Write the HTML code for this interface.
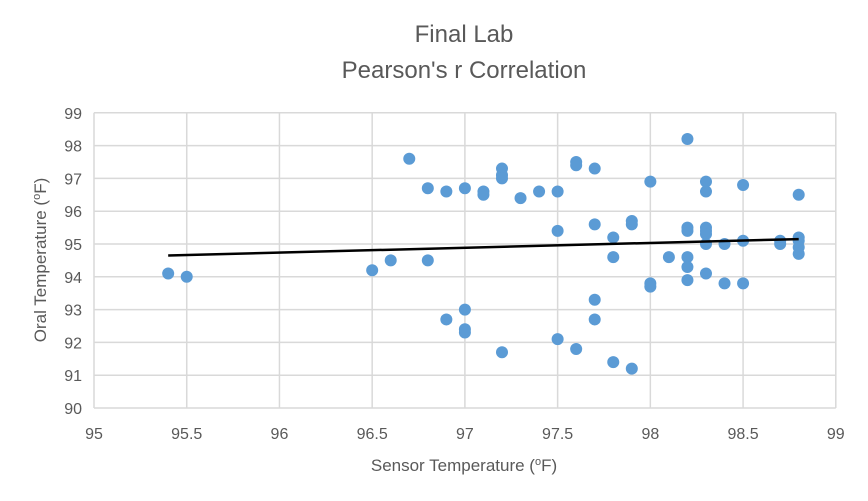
<!DOCTYPE html>
<html><head><meta charset="utf-8"><style>
body{margin:0;background:#fff}
svg{display:block;font-family:"Liberation Sans",sans-serif}
</style></head><body>
<svg id="s" width="868" height="501" viewBox="0 0 868 501">
<rect width="868" height="501" fill="#fff"/>
<text x="464" y="42" text-anchor="middle" font-size="24" fill="#595959">Final Lab</text>
<text x="464" y="78" text-anchor="middle" font-size="24" fill="#595959">Pearson's r Correlation</text>
<g id="grid" stroke="#d9d9d9" stroke-width="1.5"></g>
<g id="lab" font-size="16" fill="#595959"></g>
<text x="464" y="471" text-anchor="middle" font-size="17" fill="#595959">Sensor Temperature (<tspan font-size="11" dy="-6">o</tspan><tspan dy="6">F)</tspan></text>
<text transform="translate(46,260) rotate(-90)" text-anchor="middle" font-size="17" fill="#595959">Oral Temperature (<tspan font-size="11" dy="-6">o</tspan><tspan dy="6">F)</tspan></text>
<g id="pts" fill="#5b9bd5"></g>
<line id="tr" stroke="#000" stroke-width="2.5"/>
</svg>
<script>
var X=function(v){return 94+(v-95)*185.45},Y=function(v){return 408-(v-90)*32.8};
var g=document.getElementById('grid'),l=document.getElementById('lab'),p=document.getElementById('pts'),ns='http://www.w3.org/2000/svg';
function el(t,a,par){var e=document.createElementNS(ns,t);for(var k in a)e.setAttribute(k,a[k]);par.appendChild(e);return e}
for(var v=90;v<=99;v++){el('line',{x1:X(95),x2:X(99),y1:Y(v),y2:Y(v)},g);var t=el('text',{x:82,y:Y(v)+6,'text-anchor':'end'},l);t.textContent=v}
for(var v=95;v<=99.001;v+=0.5){el('line',{x1:X(v),x2:X(v),y1:Y(90),y2:Y(99)},g);var t=el('text',{x:X(v),y:439,'text-anchor':'middle'},l);t.textContent=(v%1?v.toFixed(1):v)}
var d=[[95.4,94.1],[95.5,94.0],[96.5,94.2],[96.6,94.5],[96.7,97.6],[96.8,96.7],[96.8,94.5],[96.9,96.6],[96.9,92.7],[97,96.7],[97,93],[97,92.4],[97,92.3],[97.1,96.6],[97.1,96.5],[97.2,97.3],[97.2,97.1],[97.2,97.0],[97.2,91.7],[97.3,96.4],[97.4,96.6],[97.5,96.6],[97.5,95.4],[97.5,92.1],[97.6,97.5],[97.6,97.4],[97.6,91.8],[97.7,97.3],[97.7,95.6],[97.7,93.3],[97.7,92.7],[97.8,95.2],[97.8,94.6],[97.8,91.4],[97.9,95.7],[97.9,95.6],[97.9,91.2],[98,96.9],[98,93.8],[98,93.7],[98.1,94.6],[98.2,98.2],[98.2,95.5],[98.2,95.4],[98.2,94.6],[98.2,94.3],[98.2,93.9],[98.3,96.9],[98.3,96.6],[98.3,95.5],[98.3,95.4],[98.3,95.3],[98.3,95.0],[98.3,94.1],[98.4,95.0],[98.4,93.8],[98.5,96.8],[98.5,95.1],[98.5,93.8],[98.7,95.1],[98.7,95.0],[98.8,96.5],[98.8,95.2],[98.8,95.1],[98.8,94.9],[98.8,94.7]];
d.forEach(function(q){el('circle',{cx:X(q[0]),cy:Y(q[1]),r:6},p)});
var tr=document.getElementById('tr');tr.setAttribute('x1',X(95.4));tr.setAttribute('y1',Y(94.65));tr.setAttribute('x2',X(98.8));tr.setAttribute('y2',Y(95.15));
</script>
</body></html>
